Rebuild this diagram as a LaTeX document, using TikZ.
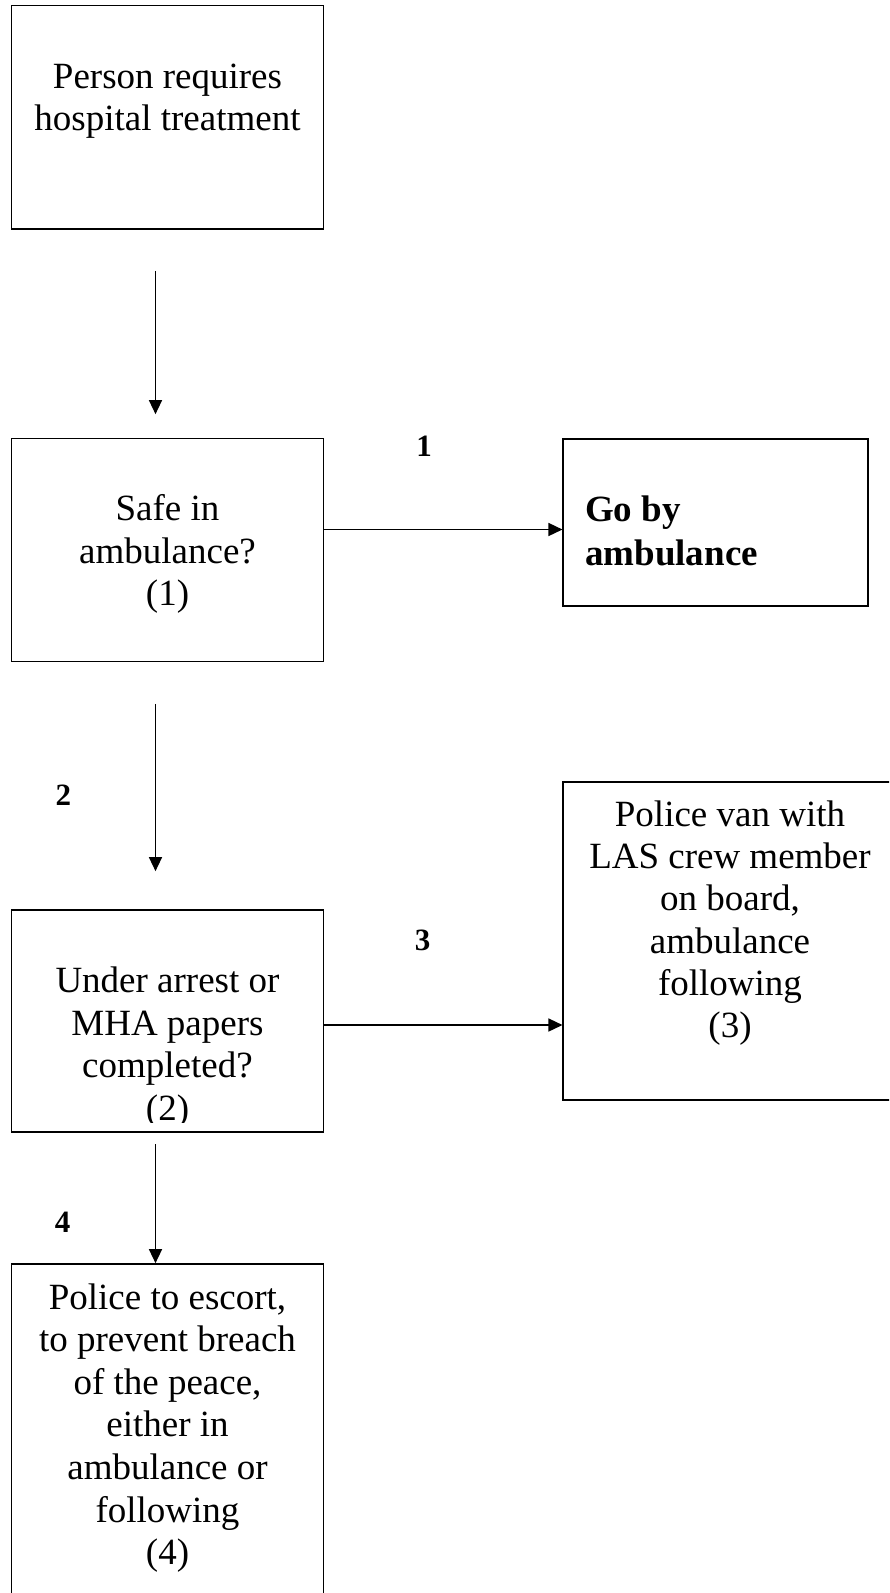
\documentclass[tikz,border=0pt]{standalone}
\usepackage{fontspec}
\setmainfont{Liberation Serif}
\usetikzlibrary{arrows.meta,calc}
\begin{document}
\begin{tikzpicture}[x=1pt,y=-1pt,
  box/.style={draw=black,line width=1.7pt,rectangle,inner sep=0pt},
  txt/.style={inner sep=0pt,align=center,anchor=base,font=\fontsize{37}{42.5}\selectfont},
  lbl/.style={inner sep=0pt,anchor=base,font=\fontsize{31}{36}\selectfont\bfseries},
  arr/.style={line width=1.5pt,-{Triangle[length=14pt,width=13pt]}}]
\clip (0,0) rectangle (889,1593);
\useasboundingbox (0,0) rectangle (889,1593);
% boxes
\node[box,minimum width=312pt,minimum height=223.5pt] (a) at (167.5,117.25) {};
\node[box,minimum width=312pt,minimum height=223pt] (b) at (167.5,550) {};
\node[box,minimum width=304.7pt,minimum height=167pt] (c) at (715.65,522.5) {};
\node[box,minimum width=312pt,minimum height=222pt] (d) at (167.5,1021) {};
\node[box,minimum width=333.7pt,minimum height=318pt] (e) at (730.15,941) {};
\node[box,minimum width=312pt,minimum height=346pt] (f) at (167.5,1437) {};
% texts (base anchor = baseline of the last line)
\node[txt] (ta) at (167.5,130.5) {Person requires\\hospital treatment};
\node[txt] (tb) at (167.5,605.5) {Safe in\\ambulance?\\(1)};
\node[txt,anchor=base west,align=left,font=\fontsize{37}{44}\selectfont\bfseries] (tc) at (585,565) {Go by\\ambulance};
\begin{scope}
\clip (0,0) rectangle (889,1122);
\node[txt] (td) at (167.5,1120.2) {Under arrest or\\MHA papers\\completed?\\(2)};
\end{scope}
\node[txt,font=\fontsize{37}{42.1}\selectfont] (te) at (730,1037.2) {Police van with\\LAS crew member\\on board,\\ambulance\\following\\(3)};
\node[txt,font=\fontsize{37}{42.6}\selectfont] (tf) at (167.5,1564.6) {Police to escort,\\to prevent breach\\of the peace,\\either in\\ambulance or\\following\\(4)};
% labels
\node[lbl] (l1) at (424,456.7) {1};
\node[lbl] (l2) at (63.3,805) {2};
\node[lbl] (l3) at (422.5,950) {3};
\node[lbl] (l4) at (62.5,1232) {4};
% connectors
\draw[arr] ([xshift=-12pt,yshift=-41pt]a.south) -- ([xshift=-12pt,yshift=23.5pt]b.north);
\draw[arr] ([xshift=-12pt,yshift=-41.5pt]b.south) -- ([xshift=-12pt,yshift=38pt]d.north);
\draw[arr] ([xshift=-12pt,yshift=-11.5pt]d.south) -- ([xshift=-12pt]f.north);
\draw[arr] ([yshift=20.5pt]b.east) -- ([yshift=-7pt]c.west);
\draw[arr] ([yshift=-4pt]d.east) -- ([yshift=-84pt]e.west);
\end{tikzpicture}
\end{document}
